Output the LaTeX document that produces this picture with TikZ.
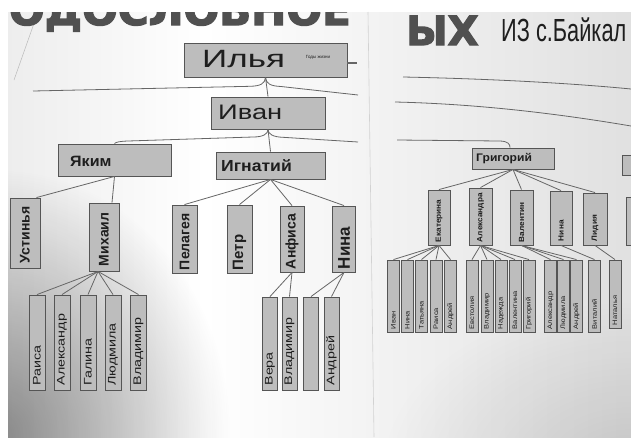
\documentclass[tikz,border=0pt]{standalone}
\usepackage{fontspec}
\setmainfont{Liberation Sans}
\newfontfamily\heavyfont{DejaVu Sans}[FakeBold=3]
\usepackage{graphicx}
\usetikzlibrary{fadings}
\tikzfading[name=softdisc, inner color=transparent!0, outer color=transparent!100]
\definecolor{boxfill}{HTML}{BDBDBD}
\definecolor{boxline}{HTML}{555555}
\definecolor{connc}{HTML}{666666}
\definecolor{inkc}{HTML}{1E1E1E}
\definecolor{titlec}{HTML}{505050}
\newcommand\hname[3]{\fontsize{#1}{#1}\selectfont\scalebox{#2}[1]{#3}}
\newcommand\vname[4]{\rotatebox{90}{\makebox[#1][l]{\fontsize{#2}{#2}\selectfont\scalebox{#3}[1]{#4}}}}
\tikzset{
  famebox/.style={draw=boxline, fill=boxfill, line width=0.9pt, inner sep=0pt, text=inkc},
  kidbox/.style={famebox, minimum width=16, minimum height=95},
  akidbox/.style={famebox, minimum width=15, minimum height=93},
  gbox/.style={famebox, minimum width=12, minimum height=72},
  rbox/.style={famebox, minimum height=55},
  txt/.style={inner sep=0pt, text=inkc},
  conn/.style={draw=connc, line width=0.8pt},
}
\begin{document}
\begin{tikzpicture}[x=1pt,y=-1pt]
\useasboundingbox (0,0) rectangle (631,437);
\fill[white] (0,0) rectangle (631,437);
% photo background
\shade[left color=gray!14, right color=white] (8,12) rectangle (205,437);
\shade[left color=white, right color=gray!24] (205,12) rectangle (631,437);
\begin{scope}
\clip (8,12) rectangle (631,437);
\fill[black, opacity=0.42, path fading=softdisc] (-230,170) rectangle (230,700);
\fill[black, opacity=0.12, path fading=softdisc] (380,300) rectangle (880,640);
\end{scope}
% poster edges
\draw[gray!55, line width=0.5pt] (38,12) -- (14,80);
\draw[gray!35, line width=0.6pt] (368,12) -- (374,437);

\begin{scope}
\clip (8,12) rectangle (631,437);
\node[anchor=base west, inner sep=0pt, text=titlec] (title1) at (-22,25) {\fontsize{42}{42}\selectfont\heavyfont\bfseries РОДОСЛОВНОЕ};
% partial boxes at the right edge
\node[famebox, minimum width=36, minimum height=20] (part1) at (640,165) {};
\node[famebox, minimum width=30, minimum height=48] (part2) at (641,221) {};
\end{scope}
\node[anchor=base west, inner sep=0pt, text=titlec] (title2) at (406,45) {\fontsize{40}{40}\selectfont\heavyfont\bfseries ЫХ};
\node[anchor=base west, inner sep=0pt, text=inkc] (title3) at (501,41) {\hname{32}{0.68}{ИЗ с.Байкал}};

% ---------- left panel ----------
\node[famebox, minimum width=163, minimum height=34] (ilya) at (265.5,60) {};
\node[txt, anchor=west] (ilyaT) at (202,59.5) {\hname{25}{1.4}{Илья}};
\node[txt] (ilyaS) at (318,57) {\fontsize{4.5}{5}\selectfont Годы жизни};

\node[famebox, minimum width=114, minimum height=32] (ivan) at (268,113) {};
\node[txt, anchor=west] (ivanT) at (218,112.5) {\hname{21}{1.3}{Иван}};

\node[famebox, minimum width=113, minimum height=32] (yakim) at (114.5,160) {};
\node[txt, anchor=west] (yakimT) at (70,161) {\hname{15}{1.07}{\bfseries Яким}};

\node[famebox, minimum width=109, minimum height=27] (ign) at (270.5,165.5) {};
\node[txt, anchor=west] (ignT) at (221,165.5) {\hname{16}{1.1}{\bfseries Игнатий}};

\node[famebox, minimum width=30, minimum height=70] (ust) at (25,233) {\vname{60pt}{14}{1}{\bfseries Устинья}};
\node[famebox, minimum width=30, minimum height=68] (mikh) at (104,237) {\vname{58pt}{14}{1}{\bfseries Михаил}};

\node[kidbox] (raisa) at (37,342.5) {\vname{86pt}{11}{1.3}{Раиса}};
\node[kidbox] (alek1) at (62,342.5) {\vname{86pt}{11}{1.3}{Александр}};
\node[kidbox] (galina) at (88,342.5) {\vname{86pt}{11}{1.3}{Галина}};
\node[kidbox] (lyud) at (113,342.5) {\vname{86pt}{11}{1.3}{Людмила}};
\node[kidbox] (vlad1) at (138.5,342.5) {\vname{86pt}{11}{1.3}{Владимир}};

\node[famebox, minimum width=25, minimum height=68] (pelag) at (184.5,239) {\vname{62pt}{14}{1}{\bfseries Пелагея}};
\node[famebox, minimum width=25, minimum height=68] (petr) at (239.5,239) {\vname{62pt}{15}{1}{\bfseries Петр}};
\node[famebox, minimum width=24, minimum height=66] (anf) at (292,239) {\vname{60pt}{14}{1}{\bfseries Анфиса}};
\node[famebox, minimum width=23, minimum height=66] (nina1) at (344,239) {\vname{60pt}{17}{1}{\bfseries Нина}};

\node[akidbox] (vera) at (270,343.5) {\vname{84pt}{11}{1.3}{Вера}};
\node[akidbox] (vlad2) at (289.5,343.5) {\vname{84pt}{11}{1.3}{Владимир}};
\node[akidbox] (empty) at (311,343.5) {};
\node[akidbox] (andr1) at (331.5,343.5) {\vname{84pt}{11}{1.3}{Андрей}};

\coordinate (bl1) at (33,91);
\coordinate (br1) at (358,95);
\coordinate (br2) at (358,142);
\coordinate (ilstub) at (357,63);

\draw[conn] (ilya.south) -- (ivan.north);
\draw[conn] (ilya.south) .. controls (265,84) and (260,86) .. (250,86.3) -- (bl1);
\draw[conn] (ilya.south) .. controls (266,84) and (271,86) .. (281,86.5) -- (br1);
\draw[conn, line width=1.4pt] (ilstub -| ilya.east) -- (ilstub);
\draw[conn] (ivan.south) .. controls (268,134) and (263,137) .. (253,137) -- (128,141) .. controls (120,141.3) and (116,142) .. (yakim.north);
\draw[conn] (ivan.south) .. controls (268,134) and (273,137) .. (283,137.3) -- (br2);
\draw[conn] (ivan.south) -- (ign.north);

\draw[conn] (yakim.south) -- ([xshift=-4pt]ust.north east);
\draw[conn] (yakim.south) -- ([xshift=8pt]mikh.north);
\foreach \c in {raisa,alek1,galina,lyud,vlad1}
  \draw[conn] ([xshift=-6pt]mikh.south) -- (\c.north);
\foreach \c in {pelag,petr,anf,nina1}
  \draw[conn] (ign.south) -- (\c.north);
\draw[conn] (anf.south) -- (vera.north);
\draw[conn] (anf.south) -- (vlad2.north);
\draw[conn] (nina1.south) -- (empty.north);
\draw[conn] (nina1.south) -- (andr1.north);

% ---------- right panel ----------
\node[famebox, minimum width=82, minimum height=21] (grig) at (513,158.5) {};
\node[txt, anchor=west] (grigT) at (476,158.5) {\hname{11}{1.1}{\bfseries Григорий}};

\node[rbox, minimum width=22] (ekat) at (439,217.5) {\vname{49pt}{7.5}{1.1}{\bfseries Екатерина}};
\node[rbox, minimum width=23, minimum height=57] (alexa) at (480.5,216.5) {\vname{51pt}{7.5}{1.1}{\bfseries Александра}};
\node[rbox, minimum width=23] (valent) at (521.5,217.5) {\vname{49pt}{7.5}{1.1}{\bfseries Валентин}};
\node[rbox, minimum width=22, minimum height=54] (nina2) at (561,218) {\vname{46pt}{7.5}{1.1}{\bfseries Нина}};
\node[rbox, minimum width=24, minimum height=52] (lidia) at (595,219) {\vname{44pt}{7.5}{1.1}{\bfseries Лидия}};

\node[gbox] (ek1) at (393.5,296) {\vname{66pt}{6.5}{1.15}{Иван}};
\node[gbox] (ek2) at (407.5,296) {\vname{66pt}{6.5}{1.15}{Нина}};
\node[gbox] (ek3) at (421.5,296) {\vname{66pt}{6.5}{1.15}{Татьяна}};
\node[gbox] (ek4) at (436,296) {\vname{66pt}{6.5}{1.15}{Раиса}};
\node[gbox] (ek5) at (450.5,296) {\vname{66pt}{6.5}{1.15}{Андрей}};
\node[gbox] (ak1) at (472,296) {\vname{66pt}{6.5}{1.15}{Евстолия}};
\node[gbox] (ak2) at (487,296) {\vname{66pt}{6.5}{1.15}{Владимир}};
\node[gbox] (ak3) at (501,296) {\vname{66pt}{6.5}{1.15}{Надежда}};
\node[gbox] (ak4) at (515,296) {\vname{66pt}{6.5}{1.15}{Валентина}};
\node[gbox] (ak5) at (529,296) {\vname{66pt}{6.5}{1.15}{Григорий}};
\node[gbox, minimum width=11.5] (vk1) at (550.5,296) {\vname{66pt}{6.5}{1.15}{Александр}};
\node[gbox, minimum width=11.5] (vk2) at (563.5,296) {\vname{66pt}{6.5}{1.15}{Людмила}};
\node[gbox, minimum width=11.5] (vk3) at (576.5,296) {\vname{66pt}{6.5}{1.15}{Андрей}};
\node[gbox] (nk1) at (594.5,296) {\vname{66pt}{6.5}{1.15}{Виталий}};
\node[gbox, minimum height=68] (lk1) at (615,294) {\vname{62pt}{6.5}{1.15}{Наталья}};

\coordinate (rl1a) at (403,77);
\coordinate (rl1b) at (631,89);
\coordinate (rl2a) at (395,102);
\coordinate (rl2b) at (631,126);
\coordinate (rl3a) at (397,140);
\draw[conn] (rl1a) .. controls (500,79) and (580,84) .. (rl1b);
\draw[conn] (rl2a) .. controls (480,104) and (560,114) .. (rl2b);
\draw[conn] (rl3a) -- (500,141) .. controls (508,141.3) and (510,144) .. ([xshift=-3pt]grig.north);

\foreach \c in {ekat,alexa,valent,nina2,lidia}
  \draw[conn] (grig.south) -- (\c.north);
\foreach \c in {ek1,ek2,ek3,ek4,ek5}
  \draw[conn] (ekat.south) -- (\c.north);
\foreach \c in {ak1,ak2,ak3,ak4,ak5}
  \draw[conn] (alexa.south) -- (\c.north);
\foreach \c in {vk1,vk2,vk3}
  \draw[conn] (valent.south) -- (\c.north);
\draw[conn] (nina2.south) -- (nk1.north);
\draw[conn] (lidia.south) -- (lk1.north);
\end{tikzpicture}
\end{document}
